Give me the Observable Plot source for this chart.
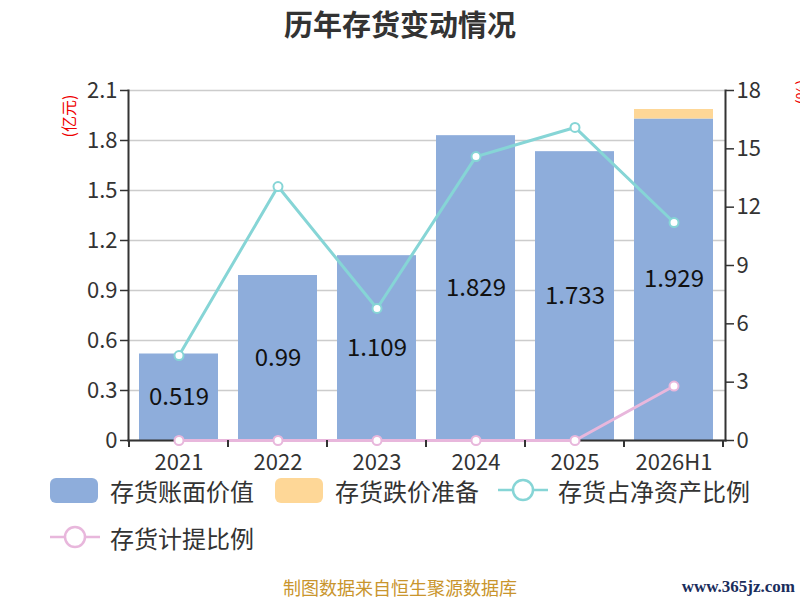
<!DOCTYPE html>
<html>
<head>
<meta charset="utf-8">
<script src="https://cdn.jsdelivr.net/npm/d3@7"></script>
<script src="https://cdn.jsdelivr.net/npm/@observablehq/plot@0.6"></script>
<style>
  html, body { margin: 0; padding: 0; background: #fff; }
  body { font-family: "Noto Sans CJK SC", "Noto Sans", sans-serif; }
  #wrap { position: relative; width: 800px; height: 600px; overflow: hidden; }
  #title { position: absolute; left: 0; top: 0; width: 800px; height: 50px; text-align: center; line-height: 46px; font-size: 29px; font-weight: bold; color: #333; }
  #chart { position: absolute; left: 0; top: 60px; }
  .lab { position: absolute; color: #e00; font-size: 16px; transform: rotate(-90deg); transform-origin: center; white-space: nowrap; }
  .leg { position: absolute; display: flex; align-items: center; font-size: 24px; color: #333; white-space: nowrap; }
  .sw { width: 48px; height: 25px; border-radius: 6px; margin-right: 12px; }
  .ln { width: 50px; height: 24px; margin-right: 10px; }
  #cap { position: absolute; left: 0; width: 800px; top: 577px; line-height: 20px; text-align: center; font-size: 18px; color: #c9952d; }
  #site { position: absolute; right: 5px; top: 577px; line-height: 20px; font-size: 17px; color: #1a2d5c; font-family: "Liberation Serif", serif; font-weight: bold; }
</style>
</head>
<body>
<div id="wrap">
  <div id="title">历年存货变动情况</div>
  <div id="chart"></div>
  <div class="lab" style="left:47px; top:104px;">(亿元)</div>
  <div class="lab" style="left:788px; top:80px;">(%)</div>
  <div id="legend"></div>
  <div id="cap">制图数据来自恒生聚源数据库</div>
  <div id="site">www.365jz.com</div>
</div>
<script>
const categories = ["2021", "2022", "2023", "2024", "2025", "2026H1"];
const bookValue = [0.519, 0.99, 1.109, 1.829, 1.733, 1.929];     // 亿元
const reserve   = [0, 0, 0, 0, 0, 0.057];                         // 亿元
const netAssetRatio = [4.37, 13.06, 6.79, 14.6, 16.1, 11.21];     // %
const provisionRatio = [0, 0, 0, 0, 0, 2.8];                      // %
const leftTicks = [0, 0.3, 0.6, 0.9, 1.2, 1.5, 1.8, 2.1];
const rightTicks = [0, 3, 6, 9, 12, 15, 18];

const seriesNames = ["存货账面价值", "存货跌价准备", "存货占净资产比例", "存货计提比例"];
const colors = ["#8eaddb", "#fed797", "#86d5d6", "#e8b7dc"];

const leftMax = 2.1, rightMax = 18, k = leftMax / rightMax;

const barData = [];
categories.forEach((c, i) => {
  barData.push({cat: c, s: seriesNames[0], v: bookValue[i]});
  barData.push({cat: c, s: seriesNames[1], v: reserve[i]});
});
const lineA = categories.map((c, i) => ({cat: c, v: netAssetRatio[i] * k}));
const lineB = categories.map((c, i) => ({cat: c, v: provisionRatio[i] * k}));
const labels = categories.map((c, i) => ({cat: c, y: bookValue[i] / 2, t: String(bookValue[i])}));

const plot = Plot.plot({
  width: 800,
  height: 425,
  marginLeft: 128,
  marginRight: 75,
  marginTop: 30,
  marginBottom: 45,
  style: {fontFamily: "'Noto Sans CJK SC', sans-serif", fontSize: "22px", color: "#333", background: "transparent", overflow: "visible"},
  x: {type: "band", domain: categories, paddingInner: 0.2, paddingOuter: 0.1, label: null},
  y: {domain: [0, leftMax], label: null},
  color: {domain: seriesNames.slice(0, 2), range: colors.slice(0, 2)},
  marks: [
    Plot.gridY(leftTicks, {stroke: "#ccc", strokeOpacity: 1, strokeWidth: 1.5}),
    Plot.barY(barData, Plot.stackY({x: "cat", y: "v", fill: "s", order: seriesNames.slice(0, 2)})),
    Plot.axisY(leftTicks, {anchor: "left", tickSize: 8, tickPadding: 3, tickFormat: d => d === 0 ? "0" : d.toFixed(1), fontSize: 22, stroke: "#333", strokeWidth: 1.5}),
    Plot.axisY(rightTicks.map(d => d * k), {anchor: "right", tickSize: 8, tickPadding: 3, tickFormat: d => String(Math.round(d / k)), fontSize: 22, stroke: "#333", strokeWidth: 1.5}),
    Plot.axisX({anchor: "bottom", tickSize: 0, tickPadding: 14, fontSize: 22}),
    Plot.frame({anchor: "left", stroke: "#333", strokeWidth: 2}),
    Plot.frame({anchor: "right", stroke: "#333", strokeWidth: 2}),
    Plot.frame({anchor: "bottom", stroke: "#333", strokeWidth: 2}),
    Plot.text(labels, {x: "cat", y: "y", text: "t", fontSize: 24, fill: "#111"}),
    Plot.line(lineA, {x: "cat", y: "v", stroke: colors[2], strokeWidth: 3}),
    Plot.dot(lineA, {x: "cat", y: "v", r: 4.5, fill: "#fff", stroke: colors[2], strokeWidth: 2}),
    Plot.line(lineB, {x: "cat", y: "v", stroke: colors[3], strokeWidth: 3}),
    Plot.dot(lineB, {x: "cat", y: "v", r: 4.5, fill: "#fff", stroke: colors[3], strokeWidth: 2})
  ]
});
document.getElementById("chart").appendChild(plot);

// category boundary ticks (below x-axis)
const sx = plot.scale("x");
const sy = plot.scale("y");
const gap = (sx.step - sx.bandwidth) / 2;
const bounds = categories.map(c => sx.apply(c) - gap);
bounds.push(sx.apply(categories[categories.length - 1]) + sx.bandwidth + gap);
const y0 = sy.apply(0);
const svg = d3.select(plot);
svg.append("g").selectAll("line").data(bounds).join("line")
  .attr("x1", d => d).attr("x2", d => d)
  .attr("y1", y0).attr("y2", y0 + 7)
  .attr("stroke", "#333").attr("stroke-width", 2);

// legend
const legend = document.getElementById("legend");
const items = [
  {name: seriesNames[0], type: "bar", color: colors[0], left: 50, top: 476},
  {name: seriesNames[1], type: "bar", color: colors[1], left: 275, top: 476},
  {name: seriesNames[2], type: "line", color: colors[2], left: 498, top: 476},
  {name: seriesNames[3], type: "line", color: colors[3], left: 50, top: 523}
];
items.forEach(it => {
  const d = document.createElement("div");
  d.className = "leg";
  d.style.left = it.left + "px";
  d.style.top = it.top + "px";
  d.style.height = "28px";
  if (it.type === "bar") {
    d.innerHTML = `<div class="sw" style="background:${it.color}"></div><span>${it.name}</span>`;
  } else {
    d.innerHTML = `<svg class="ln" viewBox="0 0 50 24"><line x1="0" x2="50" y1="12" y2="12" stroke="${it.color}" stroke-width="2.5"/><circle cx="25" cy="12" r="10" fill="#fff" stroke="${it.color}" stroke-width="2.5"/></svg><span>${it.name}</span>`;
  }
  legend.appendChild(d);
});
</script>
</body>
</html>
